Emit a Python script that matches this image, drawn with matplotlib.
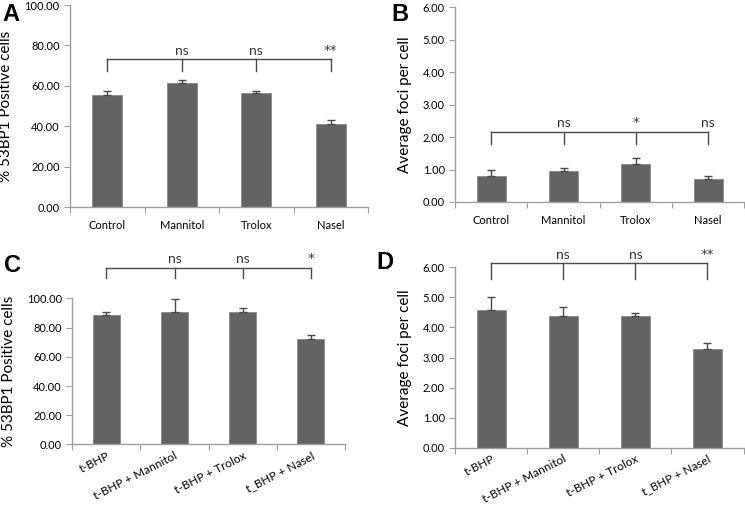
import matplotlib
matplotlib.use("Agg")
import matplotlib.pyplot as plt
import numpy as np

plt.rcParams['font.family'] = ['Lato', 'DejaVu Sans']

# data
labels_top = ["Control", "Mannitol", "Trolox", "Nasel"]
labels_bottom = ["t-BHP", "t-BHP + Mannitol", "t-BHP + Trolox", "t_BHP + Nasel"]

pct_a = [55.3, 61.5, 56.4, 40.9]
err_a = [2.0, 1.2, 0.9, 2.0]
foci_b = [0.79, 0.94, 1.17, 0.72]
err_b = [0.20, 0.10, 0.18, 0.09]
pct_c = [89.0, 91.0, 90.5, 72.5]
err_c = [1.8, 8.3, 3.3, 2.8]
foci_d = [4.57, 4.38, 4.38, 3.28]
err_d = [0.44, 0.29, 0.09, 0.21]

sig_a = ["ns", "ns", "**"]
sig_b = ["ns", "*", "ns"]
sig_c = ["ns", "ns", "*"]
sig_d = ["ns", "ns", "**"]

BAR = "#636363"
AXIS = "#a0a0a0"
LINE = "#4a4a4a"

fig = plt.figure(figsize=(7.45, 5.05), dpi=100)

# axes positions in figure fraction
axA = fig.add_axes([0.094, 0.590, 0.400, 0.400])
axB = fig.add_axes([0.611, 0.600, 0.388, 0.386])
axC = fig.add_axes([0.097, 0.120, 0.366, 0.289])
axD = fig.add_axes([0.611, 0.1135, 0.387, 0.357])


def draw_panel(ax, vals, errs, labels, ymax, nticks, ylabel, sig, br_y, br_drop, txt_y, rotate):
    x = np.arange(len(vals))
    ax.bar(x, vals, width=0.4, color=BAR, edgecolor="#8a8a8a", linewidth=0.6, zorder=2)
    ax.errorbar(x, vals, yerr=[np.zeros(len(errs)), errs], fmt="none",
                ecolor=LINE, elinewidth=1, capsize=3, capthick=1, zorder=3)
    ax.set_xlim(-0.5, len(vals) - 0.5)
    ax.set_ylim(0, ymax)
    yt = np.linspace(0, ymax, nticks)
    ax.set_yticks(yt)
    ax.set_yticklabels(["%.2f" % v for v in yt], fontsize=8)
    # excel style: ticks between categories, labels at centers
    ax.set_xticks(np.arange(-0.5, len(vals)), minor=False)
    ax.set_xticklabels([])
    ax.set_xticks(x, minor=True)
    if rotate:
        ax.set_xticklabels(labels, minor=True, fontsize=8.5, rotation=27,
                           ha="right", rotation_mode="anchor")
        ax.tick_params(axis="x", which="minor", length=0, pad=4)
    else:
        ax.set_xticklabels(labels, minor=True, fontsize=8)
        ax.tick_params(axis="x", which="minor", length=0, pad=9)
    ax.tick_params(axis="x", which="major", length=4, color=AXIS, direction="out")
    ax.tick_params(axis="y", length=4, color=AXIS, direction="out")
    for s in ["top", "right"]:
        ax.spines[s].set_visible(False)
    for s in ["left", "bottom"]:
        ax.spines[s].set_color(AXIS)
        ax.spines[s].set_linewidth(1)
    ax.set_ylabel(ylabel, fontsize=11, labelpad=8)

    # significance bracket
    ax.plot([x[0], x[-1]], [br_y, br_y], color=LINE, lw=1, clip_on=False)
    for xi in x:
        ax.plot([xi, xi], [br_drop, br_y], color=LINE, lw=1, clip_on=False)
    for xi, s in zip(x[1:], sig):
        if "*" in s:
            ax.text(xi, txt_y, s, ha="center", va="bottom", fontsize=9.5,
                    color="#333333", family="DejaVu Sans")
        else:
            ax.text(xi, txt_y, s, ha="center", va="bottom", fontsize=10, color="#333333")


draw_panel(axA, pct_a, err_a, labels_top, 100, 6, "% 53BP1 Positive cells",
           sig_a, 73.2, 67.4, 74.5, False)
draw_panel(axB, foci_b, err_b, labels_top, 6, 7, "Average foci per cell",
           sig_b, 2.15, 1.8, 2.25, False)
draw_panel(axC, pct_c, err_c, labels_bottom, 100, 6, "% 53BP1 Positive cells",
           sig_c, 121, 113.7, 123, True)
draw_panel(axD, foci_d, err_d, labels_bottom, 6, 7, "Average foci per cell",
           sig_d, 6.13, 5.6, 6.2, True)

for letter, xx, yy in [("A", 0.003, 0.995), ("B", 0.525, 0.995),
                       ("C", 0.005, 0.497), ("D", 0.505, 0.502)]:
    fig.text(xx, yy, letter, fontsize=17, fontweight="bold",
             family="Liberation Sans", va="top", ha="left")

fig.savefig("out.png", dpi=100)
